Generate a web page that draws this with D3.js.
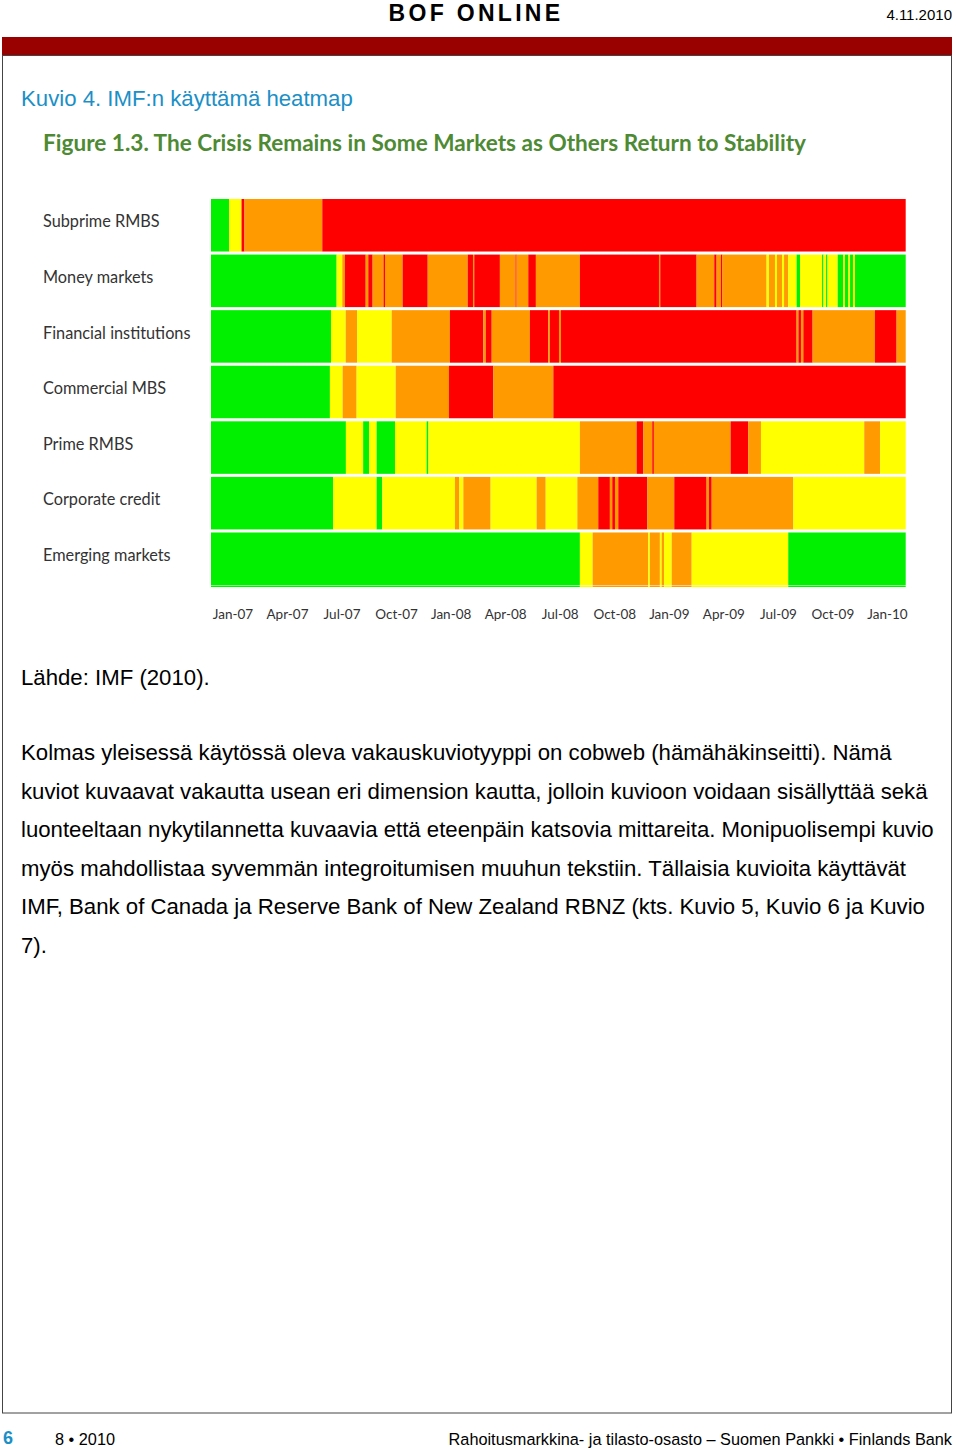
<!DOCTYPE html>
<html>
<head>
<meta charset="utf-8">
<script src="https://cdn.jsdelivr.net/npm/d3@7"></script>
<style>
  body { margin: 0; background: #fff; }
  svg { display: block; }
  .axis text { font-family: Lato, "Open Sans", sans-serif; font-size: 13.5px; fill: #333; }
  .rowlabel { font-family: Lato, "Open Sans", sans-serif; font-size: 16.3px; fill: #333; }
  .page { font-family: "Liberation Sans", Arial, sans-serif; }
</style>
</head>
<body>
<div id="chart"></div>
<script>
// IMF heatmap (GFSR 2010, figure 1.3), as shown in BOF Online 4.11.2010
var W = 960, H = 1450;

var rows = ["Subprime RMBS", "Money markets", "Financial institutions", "Commercial MBS",
            "Prime RMBS", "Corporate credit", "Emerging markets"];

// 0 = green, 1 = yellow, 2 = orange, 3 = red
var levelColors = ["#00f000", "#ffff00", "#ff9a00", "#ff0000"];

// months from Jan 2007, one tick per quarter
var tickMonths = [0, 3, 6, 9, 12, 15, 18, 21, 24, 27, 30, 33, 36];
var tickLabels = ["Jan-07", "Apr-07", "Jul-07", "Oct-07", "Jan-08", "Apr-08", "Jul-08",
                  "Oct-08", "Jan-09", "Apr-09", "Jul-09", "Oct-09", "Jan-10"];
var monthDomain = [-1.18, 37.03];

// each row: [month where segment starts, level]; a segment runs to the next start
var subprimeRMBS = [[-1.18,0],[-0.18,1],[0.50,3],[0.66,2],[4.94,3]];
var moneyMarkets = [[-1.18,0],[5.73,1],[6.04,2],[6.19,3],[7.33,2],[7.47,3],[7.71,2],[8.31,3],[8.39,2],
  [9.36,3],[10.74,2],[12.94,3],[13.23,2],[13.30,3],[14.71,2],[15.57,3],[15.63,2],[16.27,3],[16.69,2],
  [19.11,3],[23.46,2],[23.53,3],[25.53,2],[26.50,3],[26.63,2],[26.87,3],[26.95,2],[29.38,1],[29.51,2],
  [29.84,1],[29.95,2],[30.23,1],[30.34,2],[30.57,1],[31.03,0],[31.22,1],[32.43,0],[32.51,1],[32.65,0],
  [32.73,1],[33.29,0],[33.60,1],[33.69,0],[33.88,1],[33.97,0],[34.13,1],[34.24,0]];
var financialInstitutions = [[-1.18,0],[5.42,1],[6.23,2],[6.86,1],[8.76,2],[11.96,3],[13.80,2],[13.93,3],
  [14.26,2],[16.36,3],[17.37,2],[17.46,3],[17.96,2],[18.07,3],[31.03,2],[31.13,3],[31.27,2],[31.40,3],
  [31.91,2],[35.34,3],[36.53,2]];
var commercialMBS = [[-1.18,0],[5.36,1],[6.06,2],[6.83,1],[8.98,2],[11.91,3],[14.35,2],[17.65,3]];
var primeRMBS = [[-1.18,0],[6.24,1],[7.19,0],[7.52,1],[7.93,0],[8.94,1],[10.68,0],[10.78,1],[19.11,2],
  [22.23,3],[22.60,2],[23.09,3],[23.18,2],[27.40,3],[28.37,2],[29.07,1],[34.75,2],[35.62,1]];
var corporateCredit = [[-1.18,0],[5.54,1],[7.93,0],[8.24,1],[12.24,2],[12.48,1],[12.70,2],[14.20,1],
  [16.73,2],[17.23,1],[18.97,2],[20.12,3],[20.76,2],[20.89,3],[21.04,2],[21.22,3],[22.82,2],[24.30,3],
  [26.08,2],[26.21,3],[26.36,2],[30.85,1]];
var emergingMarkets = [[-1.18,0],[19.11,1],[19.81,2],[22.87,1],[22.96,2],[23.51,1],[23.61,2],[23.74,1],
  [24.16,2],[25.26,1],[30.57,0]];

var series = [subprimeRMBS, moneyMarkets, financialInstitutions, commercialMBS,
              primeRMBS, corporateCredit, emergingMarkets];

var paragraph = [
  "Kolmas yleisessä käytössä oleva vakauskuviotyyppi on cobweb (hämähäkinseitti). Nämä",
  "kuviot kuvaavat vakautta usean eri dimension kautta, jolloin kuvioon voidaan sisällyttää sekä",
  "luonteeltaan nykytilannetta kuvaavia että eteenpäin katsovia mittareita. Monipuolisempi kuvio",
  "myös mahdollistaa syvemmän integroitumisen muuhun tekstiin. Tällaisia kuvioita käyttävät",
  "IMF, Bank of Canada ja Reserve Bank of New Zealand RBNZ (kts. Kuvio 5, Kuvio 6 ja Kuvio",
  "7)."
];

var svg = d3.select("#chart").append("svg")
    .attr("width", W)
    .attr("height", H)
    .attr("class", "page");

// page header
svg.append("text")
    .attr("x", 476).attr("y", 21)
    .attr("text-anchor", "middle")
    .style("font-size", "23px").style("font-weight", "bold").style("letter-spacing", "3.3px")
    .text("BOF ONLINE");
svg.append("text")
    .attr("x", 952).attr("y", 20)
    .attr("text-anchor", "end")
    .style("font-size", "15px")
    .text("4.11.2010");
svg.append("rect")
    .attr("x", 2).attr("y", 37).attr("width", 950).attr("height", 18)
    .attr("fill", "#990000");
svg.append("rect")
    .attr("x", 2.5).attr("y", 55.5).attr("width", 949).attr("height", 1357.5)
    .attr("fill", "none").attr("stroke", "#444").attr("stroke-width", 1);

svg.append("text")
    .attr("x", 21).attr("y", 106)
    .attr("fill", "#1b8fc6")
    .style("font-size", "22.2px")
    .text("Kuvio 4. IMF:n käyttämä heatmap");

svg.append("text")
    .attr("x", 43).attr("y", 151)
    .attr("fill", "#4e8a34")
    .style("font-family", "Lato, 'Open Sans', sans-serif")
    .style("font-size", "22.6px").style("font-weight", "bold")
    .text("Figure 1.3. The Crisis Remains in Some Markets as Others Return to Stability");

// heatmap
var x = d3.scaleLinear().domain(monthDomain).range([211, 905.7]);
var y = d3.scaleBand().domain(rows).range([199, 585]).paddingInner(0.055);

function segments(row) {
  return row.map(function(d, i) {
    var end = i < row.length - 1 ? row[i + 1][0] : monthDomain[1];
    return {start: d[0], end: end, level: d[1]};
  });
}

var rowG = svg.selectAll(".row")
    .data(rows.map(function(name, i) { return {name: name, segs: segments(series[i])}; }))
    .enter().append("g")
      .attr("class", "row")
      .attr("transform", function(d) { return "translate(0," + y(d.name) + ")"; });

rowG.selectAll("rect")
    .data(function(d) { return d.segs; })
    .enter().append("rect")
      .attr("x", function(d) { return x(d.start); })
      .attr("width", function(d) { return x(d.end) - x(d.start); })
      .attr("height", y.bandwidth())
      .attr("fill", function(d) { return levelColors[d.level]; });

// thin sliver of the last row that shows under the white line in the source image
svg.append("g")
    .attr("transform", "translate(0," + (y.range()[1] + 0.5) + ")")
  .selectAll("rect")
    .data(segments(emergingMarkets))
    .enter().append("rect")
      .attr("x", function(d) { return x(d.start); })
      .attr("width", function(d) { return x(d.end) - x(d.start); })
      .attr("height", 1.5)
      .attr("fill", function(d) { return levelColors[d.level]; });

rowG.append("text")
    .attr("class", "rowlabel")
    .attr("x", 43)
    .attr("y", y.bandwidth() / 2 - 2)
    .attr("dominant-baseline", "middle")
    .text(function(d) { return d.name; });

var axis = svg.append("g")
    .attr("class", "axis")
    .attr("transform", "translate(0,606)")
    .call(d3.axisBottom(x)
      .tickValues(tickMonths)
      .tickFormat(function(d, i) { return tickLabels[i]; })
      .tickSize(0)
      .tickPadding(3));
axis.select(".domain").remove();

// source + body text
svg.append("text")
    .attr("x", 21).attr("y", 685)
    .style("font-size", "22.2px")
    .text("Lähde: IMF (2010).");

svg.append("g").selectAll("text")
    .data(paragraph)
    .enter().append("text")
      .attr("x", 21)
      .attr("y", function(d, i) { return 760 + i * 38.6; })
      .style("font-size", "22.2px")
      .text(function(d) { return d; });

// footer
svg.append("text")
    .attr("x", 3).attr("y", 1444)
    .attr("fill", "#1b8fc6")
    .style("font-size", "18px").style("font-weight", "bold")
    .text("6");
svg.append("text")
    .attr("x", 55).attr("y", 1445)
    .style("font-size", "16.3px")
    .text("8 • 2010");
svg.append("text")
    .attr("x", 952).attr("y", 1445)
    .attr("text-anchor", "end")
    .style("font-size", "16.3px")
    .text("Rahoitusmarkkina- ja tilasto-osasto – Suomen Pankki • Finlands Bank");
</script>
</body>
</html>
